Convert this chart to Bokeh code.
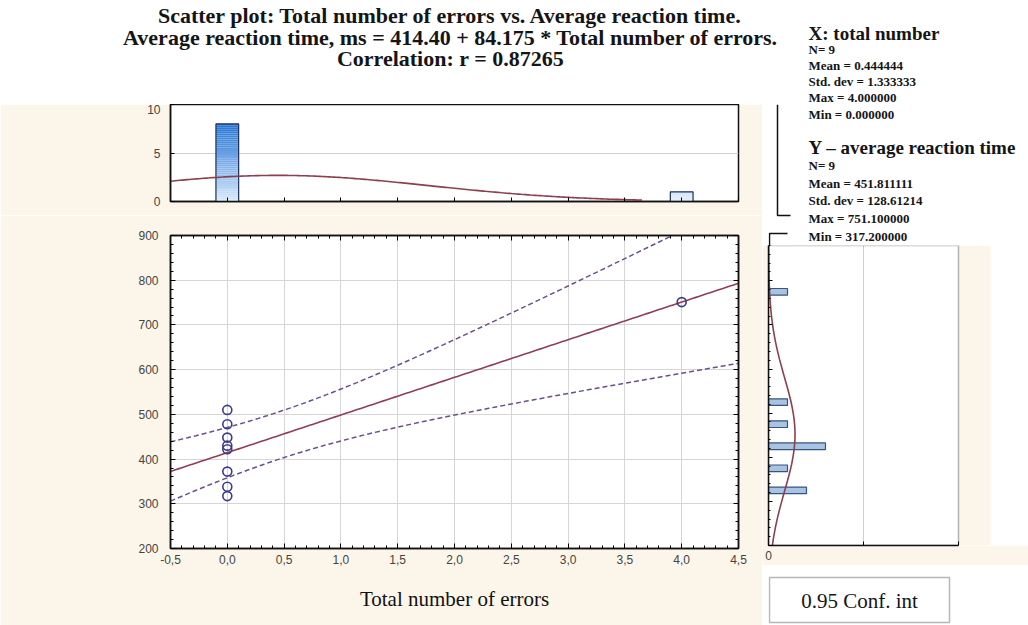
import numpy as np
from bokeh.plotting import figure
from bokeh.models import (Range1d, LinearAxis, FixedTicker, CustomJSTickFormatter, Label,
                          BoxAnnotation)
from bokeh.layouts import column, row
from bokeh.embed import file_html
from bokeh.resources import INLINE

# ---------------- data ----------------
total_errors = [0, 0, 0, 0, 0, 0, 0, 0, 4]
reaction_ms = [510, 478, 448, 430, 422, 372, 338, 317.2, 751.1]

x_tick_values = [-0.5, 0.0, 0.5, 1.0, 1.5, 2.0, 2.5, 3.0, 3.5, 4.0, 4.5]
y_tick_values = [200, 300, 400, 500, 600, 700, 800, 900]
top_hist_ticks = [0, 5, 10]
side_hist_ticks = [0, 5, 10]
side_hist_bin_edges = [200, 250, 300, 350, 400, 450, 500, 550, 600, 650, 700, 750, 800, 850, 900]

title_lines = [
    "Scatter plot: Total number of errors vs. Average reaction time.",
    "Average reaction time, ms = 414.40 + 84.175 * Total number of errors.",
    "Correlation: r = 0.87265",
]
x_stats_lines = ["X: total number", "N= 9", "Mean = 0.444444", "Std. dev = 1.333333",
                 "Max = 4.000000", "Min = 0.000000"]
y_stats_lines = ["Y \u2013 average reaction time", "N= 9", "Mean = 451.811111",
                 "Std. dev = 128.61214", "Max = 751.100000", "Min = 317.200000"]
x_label = "Total number of errors"
y_label_lines = ["Average", "reaction", "time, ms"]
legend_text = "0.95 Conf. int"
T_975_DF7 = 2.3646  # Student t, 95 % two-sided, 7 d.f.

# ---------------- styling ----------------
CREAM = "#fcf6ea"
SERIF = "Liberation Serif"
SANS = "Liberation Sans"
TICK_COLOR = "#444444"
FIT_COLOR = "#8e3f55"
CI_COLOR = "#6b5088"
PT_COLOR = "#3d3a8c"
CURVE_COLOR = "#8b3f4f"
FRAME = "#111111"

# ---------------- derived statistics ----------------
x = np.array(total_errors, dtype=float)
y = np.array(reaction_ms, dtype=float)
n = len(x)
slope, intercept = np.polyfit(x, y, 1)
xs = np.linspace(x_tick_values[0], x_tick_values[-1], 201)
fit = intercept + slope * xs
resid = y - (intercept + slope * x)
s_res = np.sqrt(np.sum(resid ** 2) / (n - 2))
sxx = np.sum((x - x.mean()) ** 2)
half = T_975_DF7 * s_res * np.sqrt(1.0 / n + (xs - x.mean()) ** 2 / sxx)


def npdf(v, m, sd):
    return np.exp(-0.5 * ((v - m) / sd) ** 2) / (sd * np.sqrt(2 * np.pi))


def blank(width, height, xr, yr, **kw):
    f = figure(width=width, height=height, x_range=Range1d(*xr), y_range=Range1d(*yr),
               x_axis_type=None, y_axis_type=None, toolbar_location=None, output_backend="svg",
               outline_line_color=None, background_fill_color="white",
               border_fill_color="white", **kw)
    f.grid.visible = False
    return f


def text_label(fig, xx, yy, txt, size, bold=False, align="left", font=SERIF):
    fig.add_layout(Label(x=xx, y=yy, text=txt, text_align=align, text_baseline="middle",
                         text_font=font, text_font_style="bold" if bold else "normal",
                         text_font_size=size, text_color="#151515"))


def no_labels(ax):
    ax.major_label_text_font_size = "0px"
    ax.major_label_standoff = 0


# ---------------- top strip: title + first stats lines ----------------
top = blank(1028, 104, (0, 1028), (104, 0), min_border=0)
for txt, yy in zip(title_lines, [15, 37, 58]):
    text_label(top, 450, yy, txt, "22px", bold=True, align="center")
for i, yy in enumerate([33, 49, 65, 81, 97]):
    text_label(top, 808, yy, x_stats_lines[i], "19px" if i == 0 else "13px", bold=True)

# ---------------- top histogram ----------------
th = figure(width=762, height=111, x_range=Range1d(x_tick_values[0], x_tick_values[-1]),
            y_range=Range1d(top_hist_ticks[0], top_hist_ticks[-1]),
            toolbar_location=None, output_backend="svg",
            min_border_left=170, min_border_right=24, min_border_top=0, min_border_bottom=14,
            background_fill_color="white", border_fill_color=CREAM,
            outline_line_color=FRAME, outline_line_width=1.5)
th.xgrid.visible = False
th.ygrid.ticker = FixedTicker(ticks=[top_hist_ticks[1]])
th.ygrid.grid_line_color = "#cfcfcf"
th.xaxis.ticker = FixedTicker(ticks=x_tick_values)
no_labels(th.xaxis[0])
th.xaxis.major_tick_in = 4
th.xaxis.major_tick_out = 0
th.xaxis.minor_tick_line_color = None
th.yaxis.ticker = FixedTicker(ticks=top_hist_ticks)
th.yaxis.major_tick_in = 4
th.yaxis.major_tick_out = 0
th.yaxis.minor_tick_line_color = None
th.yaxis.major_label_standoff = 10
th.yaxis.major_label_text_font = SANS
th.yaxis.major_label_text_font_size = "12px"
th.yaxis.major_label_text_color = TICK_COLOR
th.axis.axis_line_color = FRAME
th.axis.axis_line_width = 1.5

vals, cnts = np.unique(x, return_counts=True)
light = np.array([218, 234, 251])
dark = np.array([36, 116, 214])
sl_l, sl_r, sl_b, sl_t, sl_c = [], [], [], [], []
nsl = 40
bar_w = 0.2
for v, c in zip(vals, cnts):
    edges = np.linspace(0, c, nsl + 1)
    for i in range(nsl):
        mid = 0.5 * (edges[i] + edges[i + 1])
        t = mid / cnts.max()
        rgb = (light + (dark - light) * t).astype(int)
        sl_l.append(v - bar_w / 2)
        sl_r.append(v + bar_w / 2)
        sl_b.append(edges[i])
        sl_t.append(edges[i + 1])
        sl_c.append("#%02x%02x%02x" % tuple(rgb))
th.quad(left=sl_l, right=sl_r, bottom=sl_b, top=sl_t, fill_color=sl_c, line_color=None)
th.vbar(x=vals, top=cnts, width=bar_w, fill_color=None, line_color="#1c2f55", line_width=1.2)
xc = np.linspace(x_tick_values[0], 3.65, 200)
th.line(xc, n * 1.0 * npdf(xc, x.mean(), x.std(ddof=1)), line_color=CURVE_COLOR, line_width=1.6)

# ---------------- main scatter ----------------
mp = figure(width=762, height=410, x_range=Range1d(x_tick_values[0], x_tick_values[-1]),
            y_range=Range1d(y_tick_values[0], y_tick_values[-1]),
            toolbar_location=None, output_backend="svg",
            min_border_left=170, min_border_right=24, min_border_top=20, min_border_bottom=77,
            background_fill_color="white", border_fill_color=CREAM,
            outline_line_color=FRAME, outline_line_width=1.5)
x_minor = list(np.round(np.arange(x_tick_values[0], x_tick_values[-1] + 1e-9, 0.1), 2))
y_minor = list(np.arange(y_tick_values[0], y_tick_values[-1] + 1, 20))
mp.xaxis.ticker = FixedTicker(ticks=x_tick_values, minor_ticks=x_minor)
mp.yaxis.ticker = FixedTicker(ticks=y_tick_values, minor_ticks=y_minor)
mp.xgrid.ticker = FixedTicker(ticks=x_tick_values)
mp.ygrid.ticker = FixedTicker(ticks=y_tick_values)
mp.grid.grid_line_color = "#d6d6d6"
mp.grid.grid_line_width = 1
mp.xaxis.formatter = CustomJSTickFormatter(code="return tick.toFixed(1).replace('.', ',');")
for ax in (mp.xaxis[0], mp.yaxis[0]):
    ax.major_tick_in = 5
    ax.major_tick_out = 0
    ax.minor_tick_in = 3
    ax.minor_tick_out = 0
    ax.axis_line_color = FRAME
    ax.axis_line_width = 1.5
    ax.major_label_text_font = SANS
    ax.major_label_text_font_size = "12px"
    ax.major_label_text_color = TICK_COLOR
mp.xaxis.major_label_standoff = 6
mp.yaxis.major_label_standoff = 12
mp.xaxis.axis_label = x_label
mp.xaxis.axis_label_text_font = SERIF
mp.xaxis.axis_label_text_font_style = "normal"
mp.xaxis.axis_label_text_font_size = "21px"
mp.xaxis.axis_label_text_color = "#111111"
mp.xaxis.axis_label_standoff = 20

for loc in ("above", "right"):
    ax = LinearAxis(ticker=FixedTicker(ticks=x_tick_values if loc == "above" else y_tick_values,
                                       minor_ticks=x_minor if loc == "above" else y_minor),
                    major_tick_in=5, major_tick_out=0, minor_tick_in=3, minor_tick_out=0,
                    axis_line_color=FRAME, axis_line_width=1.5)
    no_labels(ax)
    mp.add_layout(ax, loc)

mp.line(xs, fit, line_color=FIT_COLOR, line_width=1.6)
mp.line(xs, fit + half, line_color=CI_COLOR, line_width=1.5, line_dash="5 3")
mp.line(xs, fit - half, line_color=CI_COLOR, line_width=1.5, line_dash="5 3")
mp.scatter(x, y, size=9, marker="circle", fill_color=None, line_color=PT_COLOR, line_width=1.6)


def mx(px):
    return x_tick_values[0] + (px - 170) * (x_tick_values[-1] - x_tick_values[0]) / 568.0


def my(py):
    return y_tick_values[0] + (548 - py) * (y_tick_values[-1] - y_tick_values[0]) / 313.0


for txt, py in zip(y_label_lines, [317, 351, 384]):
    mp.add_layout(Label(x=mx(12), y=my(py), text=txt, text_align="left", text_baseline="middle",
                        text_font=SERIF, text_font_size="21px", text_color="#111111"))

# ---------------- right column (all figures share borders 6 / 0) ----------------
RB_L, RB_R = 6, 0
st = blank(266, 141, (768, 1028), (245, 104), min_border_left=RB_L, min_border_right=RB_R,
           min_border_top=0, min_border_bottom=0)
text_label(st, 808, 114, x_stats_lines[5], "13px", bold=True)
for i, yy in enumerate([147, 165, 183, 200, 218, 236]):
    text_label(st, 808, yy, y_stats_lines[i], "19px" if i == 0 else "13px", bold=True)
# frame fragments of the pasted panel (decoration, pixel space)
st.multi_line(xs=[[777, 777, 790], [787, 769, 769]], ys=[[104, 215, 215], [233, 233, 245]],
              line_color=FRAME, line_width=1.5)

# right histogram: frame box 768..958 px, counts 0..10
rh_x_end = side_hist_ticks[-1] * (1028 - 768) / (958 - 768)
rh = figure(width=266, height=320, x_range=Range1d(side_hist_ticks[0], rh_x_end),
            y_range=Range1d(200, 880), toolbar_location=None, output_backend="svg",
            min_border_left=RB_L, min_border_right=RB_R, min_border_top=0, min_border_bottom=20,
            background_fill_color="white", border_fill_color=CREAM, outline_line_color=None)
rh.ygrid.visible = False
rh.xgrid.ticker = FixedTicker(ticks=[side_hist_ticks[1]])
rh.xgrid.grid_line_color = "#cfcfcf"
rh.xaxis.ticker = FixedTicker(ticks=side_hist_ticks)
rh.xaxis.bounds = (side_hist_ticks[0], side_hist_ticks[-1])
rh.xaxis.formatter = CustomJSTickFormatter(code="return tick == 0 ? '0' : '';")
rh.xaxis.major_label_text_font = SANS
rh.xaxis.major_label_text_font_size = "12px"
rh.xaxis.major_label_text_color = TICK_COLOR
rh.xaxis.major_label_standoff = 5
rh.yaxis.ticker = FixedTicker(ticks=y_tick_values, minor_ticks=y_minor)
no_labels(rh.yaxis[0])
for ax in (rh.xaxis[0], rh.yaxis[0]):
    ax.major_tick_in = 4
    ax.major_tick_out = 0
    ax.minor_tick_in = 2
    ax.minor_tick_out = 0
    ax.axis_line_color = FRAME
    ax.axis_line_width = 1.5
rh.xaxis.minor_tick_line_color = None
px_per_cnt = (958 - 768) / side_hist_ticks[-1]
rh.add_layout(BoxAnnotation(left=side_hist_ticks[-1], right=side_hist_ticks[-1] + (990 - 958) / px_per_cnt,
                            fill_color=CREAM, fill_alpha=1.0, line_color=None, level="underlay"))
rh.add_layout(BoxAnnotation(left=side_hist_ticks[0], right=side_hist_ticks[-1], bottom=200, top=880,
                            fill_color=None, fill_alpha=0, line_color=FRAME, line_width=1.5))

h_cnt, h_edges = np.histogram(y, bins=side_hist_bin_edges)
keep = h_cnt > 0
centers = (0.5 * (np.array(h_edges[:-1]) + np.array(h_edges[1:])))[keep]
rh.hbar(y=centers, left=0, right=h_cnt[keep], height=15, fill_color="#a9c4e2",
        line_color="#36557f", line_width=1.2)
yy_c = np.linspace(200, 880, 300)
rh.line(n * 50 * npdf(yy_c, y.mean(), y.std(ddof=1)), yy_c, line_color=CURVE_COLOR, line_width=1.6)

# confidence legend box
cf = blank(266, 60, (768, 1028), (625, 565), min_border_left=RB_L, min_border_right=RB_R,
           min_border_top=0, min_border_bottom=0)
cf.add_layout(BoxAnnotation(left=769, right=949, top=577, bottom=622, fill_color="white",
                            fill_alpha=1.0, line_color=FRAME, line_width=1.5))
text_label(cf, 859, 600, legend_text, "21px", align="center")

layout = column(top, row(column(th, mp), column(st, rh, cf)))
open("out.html", "w").write(file_html(layout, INLINE))
